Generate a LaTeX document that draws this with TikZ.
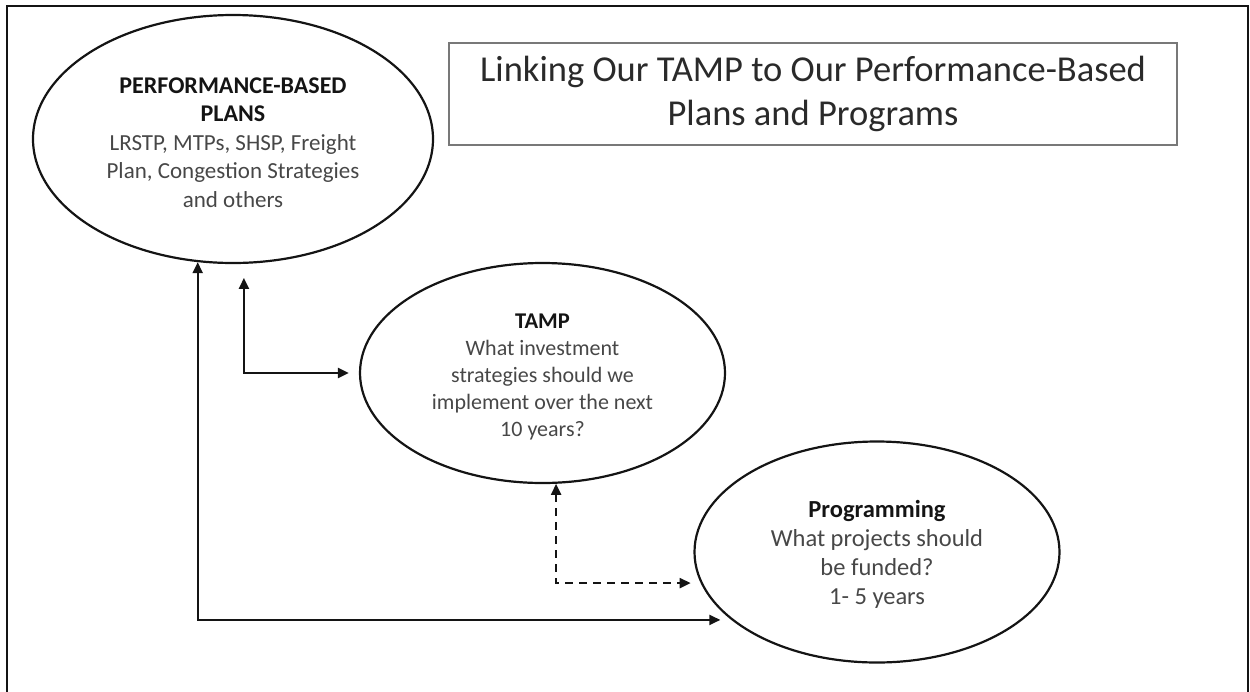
\documentclass[tikz,border=0pt]{standalone}
\usepackage{fontspec}
\setmainfont{Carlito}
\usetikzlibrary{shapes.geometric,arrows.meta}

\definecolor{ink}{HTML}{141414}
\definecolor{bodytext}{HTML}{474747}
\definecolor{titletext}{HTML}{2A2A2A}
\definecolor{boxline}{HTML}{787878}

\tikzset{
  bubble/.style={ellipse, draw=ink, line width=2.2pt, inner sep=0pt,
                 align=center, text=bodytext},
  titlebox/.style={draw=boxline, line width=2pt, inner sep=0pt,
                   align=center, text=titletext},
  tip/.tip={Triangle[length=11pt,width=10pt]},
  link/.style={draw=ink, line width=2.2pt, tip-tip},
  dashlink/.style={link, dash pattern=on 8pt off 6pt},
  frameline/.style={draw=ink, line width=2pt}
}
% bold heading line: size, line spacing, top strut height, text
\newcommand{\hd}[4]{{\color{ink}\fontsize{#1}{#2}\selectfont\bfseries\rule{0pt}{#3}#4}}

\begin{document}
\begin{tikzpicture}[x=1pt, y=-1pt]
  \useasboundingbox (0,0) rectangle (1250,691);

  % outer frame (open at the bottom)
  \draw[frameline] (7,700) -- (7,6) -- (1248,6) -- (1248,700);

  % heading
  \node[titlebox, minimum width=728pt, minimum height=102pt,
        font=\fontsize{36.5}{44}\selectfont] (title) at (813,94)
    {Linking Our TAMP to Our Performance-Based\\Plans and Programs};

  % the three stages
  \node[bubble, minimum width=400pt, minimum height=248pt,
        font=\fontsize{23}{28.5}\selectfont] (plans) at (233,139)
    {\hd{24}{29.5}{23pt}{PERFORMANCE-BASED}\\\hd{24}{28.5}{0pt}{PLANS}\\
     LRSTP, MTPs, SHSP, Freight\\Plan, Congestion Strategies\\and others};

  \node[bubble, minimum width=365pt, minimum height=220pt,
        font=\fontsize{22}{27.2}\selectfont] (tamp) at (542.5,373)
    {\hd{22.5}{27.2}{22.5pt}{TAMP}\\What investment\\strategies should we\\
     implement over the next\\10 years?};

  \node[bubble, minimum width=365pt, minimum height=221pt,
        font=\fontsize{24.5}{29}\selectfont] (prog) at (877,552)
    {\hd{24.5}{29}{22.8pt}{Programming}\\What projects should\\be funded?\\1- 5 years};

  % connectors
  \draw[link, shorten <=14pt, shorten >=10pt] (plans.275) |- (tamp.west);
  \draw[link, shorten >=11pt] (plans.254) |- (prog.205);
  \draw[dashlink, shorten >=10pt] (tamp.277) |- (prog.190);
\end{tikzpicture}
\end{document}
